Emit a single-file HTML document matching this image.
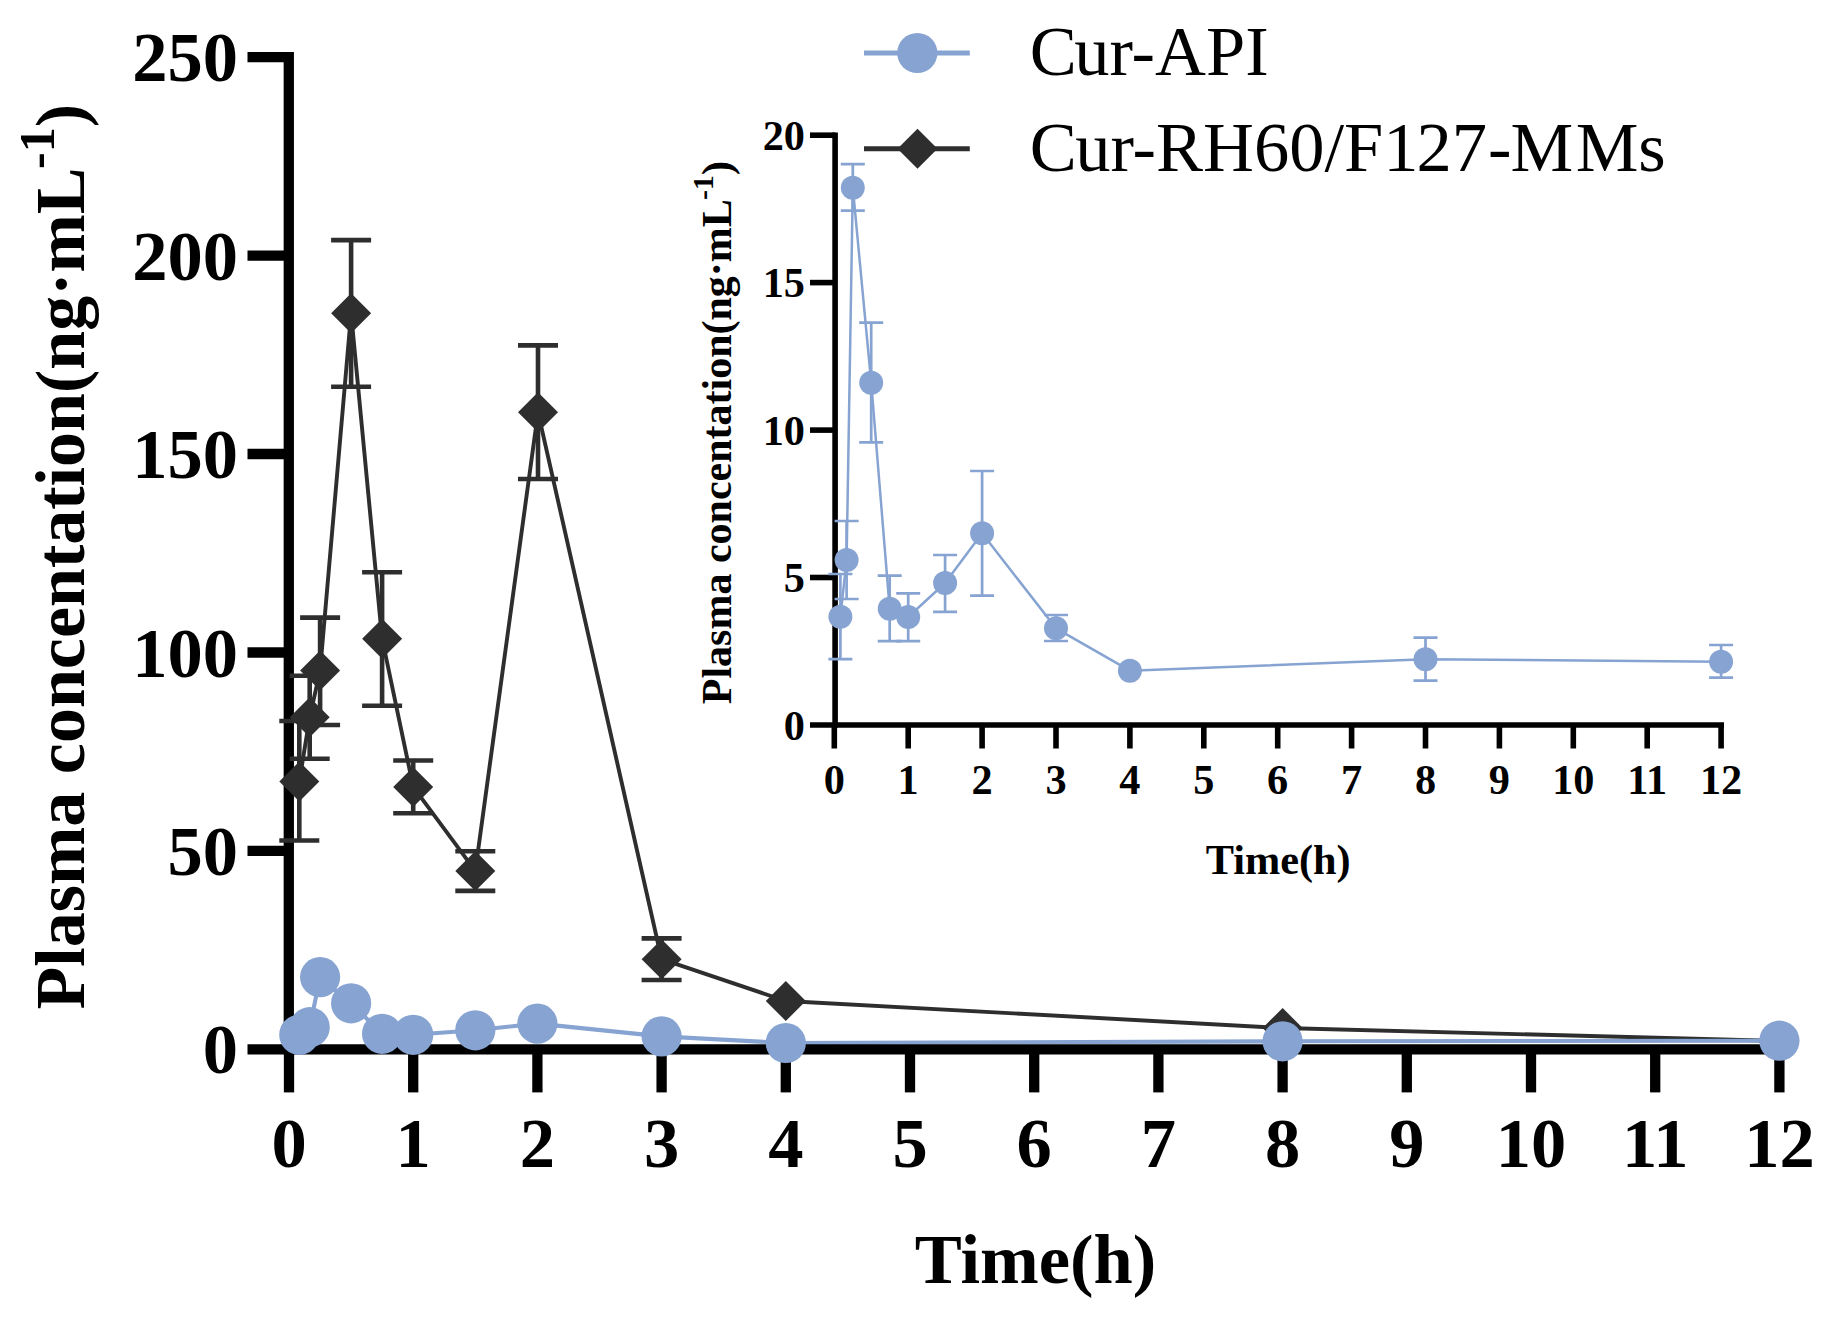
<!DOCTYPE html>
<html lang="en"><head><meta charset="utf-8"><title>Plasma concentration-time curve</title>
<style>
html,body{margin:0;padding:0;background:#fff;}
body{width:1836px;height:1320px;overflow:hidden;}
svg{display:block;}
text{font-family:"Liberation Serif","Times New Roman",serif;fill:#000;}
.b{font-weight:bold;}
</style></head><body>
<svg width="1836" height="1320" viewBox="0 0 1836 1320">
<rect width="1836" height="1320" fill="#fff"/>

<g id="main-lines" fill="none" stroke-linejoin="round">
<polyline points="299.3,781.5 309.7,717.3 320.1,670.5 351.1,313.2 382.1,638.7 413.2,786.9 475.3,870.9 538.0,412.2 661.6,959.2 785.8,1001.0 1282.6,1028.0 1779.4,1041.0" stroke="#2e2e2e" stroke-width="3.9"/>
<polyline points="299.3,1034.8 309.7,1027.2 320.1,977.1 351.1,1003.3 382.1,1033.8 413.2,1034.8 475.3,1030.3 537.4,1023.6 661.6,1036.4 785.8,1043.0 1282.6,1041.3 1779.4,1040.7" stroke="#86a3d2" stroke-width="4.1"/>
</g>
<g id="main-axes" stroke="#000" stroke-width="10.3" fill="none">
<path d="M288.8 52V1054.4"/>
<path d="M247.5 1049.3H1784.6"/>
<path d="M247.5 57.2H289"/>
<path d="M247.5 255.6H289"/>
<path d="M247.5 454.0H289"/>
<path d="M247.5 652.5H289"/>
<path d="M247.5 850.9H289"/>
<path d="M289.0 1049.3V1092.4"/>
<path d="M413.2 1049.3V1092.4"/>
<path d="M537.4 1049.3V1092.4"/>
<path d="M661.6 1049.3V1092.4"/>
<path d="M785.8 1049.3V1092.4"/>
<path d="M910.0 1049.3V1092.4"/>
<path d="M1034.2 1049.3V1092.4"/>
<path d="M1158.4 1049.3V1092.4"/>
<path d="M1282.6 1049.3V1092.4"/>
<path d="M1406.8 1049.3V1092.4"/>
<path d="M1531.0 1049.3V1092.4"/>
<path d="M1655.2 1049.3V1092.4"/>
<path d="M1779.4 1049.3V1092.4"/>
</g>
<g id="main-errors" fill="none">
<path d="M299.3 721.0V840.5M279.3 721.0H319.3M279.3 840.5H319.3" stroke="#2e2e2e" stroke-width="4.6"/>
<path d="M309.7 675.8V758.7M289.7 675.8H329.7M289.7 758.7H329.7" stroke="#2e2e2e" stroke-width="4.6"/>
<path d="M320.1 617.6V725.0M300.1 617.6H340.1M300.1 725.0H340.1" stroke="#2e2e2e" stroke-width="4.6"/>
<path d="M351.1 240.1V386.8M331.1 240.1H371.1M331.1 386.8H371.1" stroke="#2e2e2e" stroke-width="4.6"/>
<path d="M382.1 572.2V705.8M362.1 572.2H402.1M362.1 705.8H402.1" stroke="#2e2e2e" stroke-width="4.6"/>
<path d="M413.2 760.5V813.3M393.2 760.5H433.2M393.2 813.3H433.2" stroke="#2e2e2e" stroke-width="4.6"/>
<path d="M475.3 851.3V890.9M455.3 851.3H495.3M455.3 890.9H495.3" stroke="#2e2e2e" stroke-width="4.6"/>
<path d="M538.0 345.4V479.0M518.0 345.4H558.0M518.0 479.0H558.0" stroke="#2e2e2e" stroke-width="4.6"/>
<path d="M661.6 938.4V980.0M641.6 938.4H681.6M641.6 980.0H681.6" stroke="#2e2e2e" stroke-width="4.6"/>
</g>
<g id="main-symbols">
<path d="M299.3 761.5L319.3 781.5L299.3 801.5L279.3 781.5Z" fill="#2e2e2e"/>
<path d="M309.7 697.3L329.7 717.3L309.7 737.3L289.7 717.3Z" fill="#2e2e2e"/>
<path d="M320.1 650.5L340.1 670.5L320.1 690.5L300.1 670.5Z" fill="#2e2e2e"/>
<path d="M351.1 293.2L371.1 313.2L351.1 333.2L331.1 313.2Z" fill="#2e2e2e"/>
<path d="M382.1 618.7L402.1 638.7L382.1 658.7L362.1 638.7Z" fill="#2e2e2e"/>
<path d="M413.2 766.9L433.2 786.9L413.2 806.9L393.2 786.9Z" fill="#2e2e2e"/>
<path d="M475.3 850.9L495.3 870.9L475.3 890.9L455.3 870.9Z" fill="#2e2e2e"/>
<path d="M538.0 392.2L558.0 412.2L538.0 432.2L518.0 412.2Z" fill="#2e2e2e"/>
<path d="M661.6 939.2L681.6 959.2L661.6 979.2L641.6 959.2Z" fill="#2e2e2e"/>
<path d="M785.8 981.0L805.8 1001.0L785.8 1021.0L765.8 1001.0Z" fill="#2e2e2e"/>
<path d="M1282.6 1008.0L1302.6 1028.0L1282.6 1048.0L1262.6 1028.0Z" fill="#2e2e2e"/>
<path d="M1779.4 1021.0L1799.4 1041.0L1779.4 1061.0L1759.4 1041.0Z" fill="#2e2e2e"/>
<circle cx="299.3" cy="1034.8" r="20.1" fill="#86a3d2"/>
<circle cx="309.7" cy="1027.2" r="20.1" fill="#86a3d2"/>
<circle cx="320.1" cy="977.1" r="20.1" fill="#86a3d2"/>
<circle cx="351.1" cy="1003.3" r="20.1" fill="#86a3d2"/>
<circle cx="382.1" cy="1033.8" r="20.1" fill="#86a3d2"/>
<circle cx="413.2" cy="1034.8" r="20.1" fill="#86a3d2"/>
<circle cx="475.3" cy="1030.3" r="20.1" fill="#86a3d2"/>
<circle cx="537.4" cy="1023.6" r="20.1" fill="#86a3d2"/>
<circle cx="661.6" cy="1036.4" r="20.1" fill="#86a3d2"/>
<circle cx="785.8" cy="1043.0" r="20.1" fill="#86a3d2"/>
<circle cx="1282.6" cy="1041.3" r="20.1" fill="#86a3d2"/>
<circle cx="1779.4" cy="1040.7" r="20.1" fill="#86a3d2"/>
</g>
<g id="main-labels" class="b" font-size="70.5">
<text x="238" y="81.3" text-anchor="end">250</text>
<text x="238" y="279.7" text-anchor="end">200</text>
<text x="238" y="478.1" text-anchor="end">150</text>
<text x="238" y="676.6" text-anchor="end">100</text>
<text x="238" y="875.0" text-anchor="end">50</text>
<text x="238" y="1073.4" text-anchor="end">0</text>
<text x="289.0" y="1166.5" text-anchor="middle">0</text>
<text x="413.2" y="1166.5" text-anchor="middle">1</text>
<text x="537.4" y="1166.5" text-anchor="middle">2</text>
<text x="661.6" y="1166.5" text-anchor="middle">3</text>
<text x="785.8" y="1166.5" text-anchor="middle">4</text>
<text x="910.0" y="1166.5" text-anchor="middle">5</text>
<text x="1034.2" y="1166.5" text-anchor="middle">6</text>
<text x="1158.4" y="1166.5" text-anchor="middle">7</text>
<text x="1282.6" y="1166.5" text-anchor="middle">8</text>
<text x="1406.8" y="1166.5" text-anchor="middle">9</text>
<text x="1531.0" y="1166.5" text-anchor="middle">10</text>
<text x="1655.2" y="1166.5" text-anchor="middle">11</text>
<text x="1779.4" y="1166.5" text-anchor="middle">12</text>
</g>
<text class="b" font-size="70.5" x="1035.5" y="1282.5" text-anchor="middle">Time(h)</text>
<text class="b" font-size="70" transform="translate(83.5 556.7) rotate(-90)" text-anchor="middle">Plasma concentation(ng·mL<tspan font-size="50" dy="-30" dx="-1.5">-1</tspan><tspan dy="30">)</tspan></text>
<g id="legend">
<path d="M864 53H969.8" stroke="#86a3d2" stroke-width="5"/><circle cx="917.3" cy="53" r="20.1" fill="#86a3d2"/>
<path d="M864 148.8H969.8" stroke="#2e2e2e" stroke-width="5"/><path d="M917.5 128.8L937.5 148.8L917.5 168.8L897.5 148.8Z" fill="#2e2e2e"/>
<text font-size="70.5" x="1029.7" y="75.3">C<tspan dx="-2.5">ur-API</tspan></text>
<text font-size="70.5" x="1029.7" y="171">C<tspan dx="-1.5">ur-RH60/F1</tspan><tspan dx="-2">27</tspan><tspan dx="1">-</tspan><tspan dx="-1">M</tspan><tspan dx="2.5">Ms</tspan></text>
</g>
<g id="inset-lines" fill="none" stroke-linejoin="round">
<polyline points="840.4,616.7 846.6,560.0 852.8,187.7 871.2,382.7 889.7,608.8 908.2,617.0 945.1,583.0 982.1,533.3 1056.0,628.3 1129.9,670.7 1425.5,659.3 1721.1,661.7" stroke="#86a3d2" stroke-width="2.5"/>
</g>
<g id="inset-axes" stroke="#000" stroke-width="5.6" fill="none">
<path d="M835.1 132.4V727.8"/><path d="M810 725H1724"/>
<path d="M810 135.2H835.3"/>
<path d="M810 282.6H835.3"/>
<path d="M810 430.1H835.3"/>
<path d="M810 577.5H835.3"/>
<path d="M834.3 725V748.5"/>
<path d="M908.2 725V748.5"/>
<path d="M982.1 725V748.5"/>
<path d="M1056.0 725V748.5"/>
<path d="M1129.9 725V748.5"/>
<path d="M1203.8 725V748.5"/>
<path d="M1277.7 725V748.5"/>
<path d="M1351.6 725V748.5"/>
<path d="M1425.5 725V748.5"/>
<path d="M1499.4 725V748.5"/>
<path d="M1573.3 725V748.5"/>
<path d="M1647.2 725V748.5"/>
<path d="M1721.1 725V748.5"/>
</g>
<g id="inset-errors" fill="none">
<path d="M840.4 574.0V659.2M828.4 574.0H852.4M828.4 659.2H852.4" stroke="#86a3d2" stroke-width="2.7"/>
<path d="M846.6 521.0V599.0M834.6 521.0H858.6M834.6 599.0H858.6" stroke="#86a3d2" stroke-width="2.7"/>
<path d="M852.8 164.2V210.7M840.8 164.2H864.8M840.8 210.7H864.8" stroke="#86a3d2" stroke-width="2.7"/>
<path d="M871.2 322.7V442.3M859.2 322.7H883.2M859.2 442.3H883.2" stroke="#86a3d2" stroke-width="2.7"/>
<path d="M889.7 575.7V641.1M877.7 575.7H901.7M877.7 641.1H901.7" stroke="#86a3d2" stroke-width="2.7"/>
<path d="M908.2 593.3V641.1M896.2 593.3H920.2M896.2 641.1H920.2" stroke="#86a3d2" stroke-width="2.7"/>
<path d="M945.1 555.0V611.8M933.1 555.0H957.1M933.1 611.8H957.1" stroke="#86a3d2" stroke-width="2.7"/>
<path d="M982.1 471.0V595.7M970.1 471.0H994.1M970.1 595.7H994.1" stroke="#86a3d2" stroke-width="2.7"/>
<path d="M1056.0 615.0V641.0M1044.0 615.0H1068.0M1044.0 641.0H1068.0" stroke="#86a3d2" stroke-width="2.7"/>
<path d="M1425.5 637.7V680.7M1413.5 637.7H1437.5M1413.5 680.7H1437.5" stroke="#86a3d2" stroke-width="2.7"/>
<path d="M1721.1 645.0V677.7M1709.1 645.0H1733.1M1709.1 677.7H1733.1" stroke="#86a3d2" stroke-width="2.7"/>
</g>
<g id="inset-symbols">
<circle cx="840.4" cy="616.7" r="12" fill="#86a3d2"/>
<circle cx="846.6" cy="560.0" r="12" fill="#86a3d2"/>
<circle cx="852.8" cy="187.7" r="12" fill="#86a3d2"/>
<circle cx="871.2" cy="382.7" r="12" fill="#86a3d2"/>
<circle cx="889.7" cy="608.8" r="12" fill="#86a3d2"/>
<circle cx="908.2" cy="617.0" r="12" fill="#86a3d2"/>
<circle cx="945.1" cy="583.0" r="12" fill="#86a3d2"/>
<circle cx="982.1" cy="533.3" r="12" fill="#86a3d2"/>
<circle cx="1056.0" cy="628.3" r="12" fill="#86a3d2"/>
<circle cx="1129.9" cy="670.7" r="12" fill="#86a3d2"/>
<circle cx="1425.5" cy="659.3" r="12" fill="#86a3d2"/>
<circle cx="1721.1" cy="661.7" r="12" fill="#86a3d2"/>
</g>
<g id="inset-labels" class="b" font-size="42.3">
<text x="805" y="149.9" text-anchor="end">20</text>
<text x="805" y="297.3" text-anchor="end">15</text>
<text x="805" y="444.8" text-anchor="end">10</text>
<text x="805" y="592.2" text-anchor="end">5</text>
<text x="805" y="739.7" text-anchor="end">0</text>
<text x="834.3" y="794" text-anchor="middle">0</text>
<text x="908.2" y="794" text-anchor="middle">1</text>
<text x="982.1" y="794" text-anchor="middle">2</text>
<text x="1056.0" y="794" text-anchor="middle">3</text>
<text x="1129.9" y="794" text-anchor="middle">4</text>
<text x="1203.8" y="794" text-anchor="middle">5</text>
<text x="1277.7" y="794" text-anchor="middle">6</text>
<text x="1351.6" y="794" text-anchor="middle">7</text>
<text x="1425.5" y="794" text-anchor="middle">8</text>
<text x="1499.4" y="794" text-anchor="middle">9</text>
<text x="1573.3" y="794" text-anchor="middle">10</text>
<text x="1647.2" y="794" text-anchor="middle">11</text>
<text x="1721.1" y="794" text-anchor="middle">12</text>
</g>
<text class="b" font-size="42.3" x="1278.2" y="874" text-anchor="middle">Time(h)</text>
<text class="b" font-size="42" transform="translate(730.5 432.7) rotate(-90)" text-anchor="middle">Plasma concentation(ng·mL<tspan font-size="30" dy="-18" dx="-1">-1</tspan><tspan dy="18">)</tspan></text>
</svg></body></html>
